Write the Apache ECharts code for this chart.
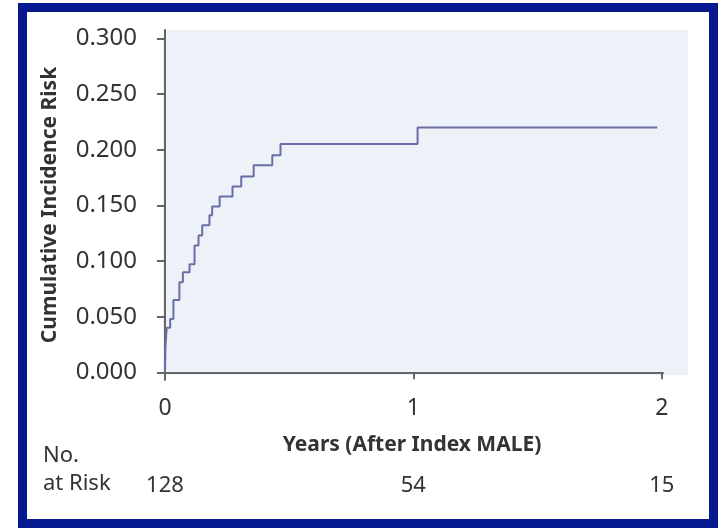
<!DOCTYPE html>
<html>
<head>
<meta charset="utf-8">
<script src="https://cdn.jsdelivr.net/npm/echarts@6/dist/echarts.min.js"></script>
<style>
  html, body { margin: 0; padding: 0; background: #ffffff; }
  #wrap { position: relative; width: 719px; height: 529px; overflow: hidden; }
  #frame { position: absolute; left: 18px; top: 3px; width: 700px; height: 525px; box-sizing: border-box; border: 9px solid #06198f; }
  #chart { position: absolute; left: 0; top: 0; width: 719px; height: 529px; }
</style>
</head>
<body>
<div id="wrap">
  <div id="frame"></div>
  <div id="chart"></div>
</div>
<script>
// Data
var years = [0, 0.002, 0.007, 0.021, 0.034, 0.058, 0.072, 0.099, 0.119, 0.135, 0.150, 0.179, 0.190, 0.220, 0.272, 0.307, 0.357, 0.432, 0.465, 1.017, 1.982];
var cumulativeRisk = [0, 0.023, 0.040, 0.048, 0.065, 0.081, 0.090, 0.097, 0.114, 0.123, 0.132, 0.141, 0.149, 0.158, 0.167, 0.176, 0.186, 0.195, 0.205, 0.220, 0.220];
var xTicks = [0, 1, 2];
var yTicks = [0, 0.05, 0.10, 0.15, 0.20, 0.25, 0.30];
var atRisk = [128, 54, 15];

var FONT = 'Noto Sans';
var TEXT = '#333333';
var AXIS = '#666666';

var seriesData = years.map(function (t, i) { return [t, cumulativeRisk[i]]; });

var chart = echarts.init(document.getElementById('chart'), null, { renderer: 'canvas' });
chart.setOption({
  animation: false,
  backgroundColor: 'transparent',
  grid: [
    { left: 161, right: 56, top: 30, bottom: 149, show: false, containLabel: false },
    { left: 163, right: 31, top: 30, bottom: 154, show: true, backgroundColor: '#edf1f8', borderWidth: 0, containLabel: false }
  ],
  xAxis: [
    {
      gridIndex: 0, type: 'value', min: -0.016, max: 2.005, position: 'bottom',
      axisLine: { show: true, lineStyle: { color: AXIS, width: 2 } },
      axisTick: { show: true, customValues: xTicks, length: 7, lineStyle: { color: AXIS, width: 2 } },
      axisLabel: { show: true, customValues: xTicks, margin: 17, color: TEXT, fontFamily: FONT, fontSize: 23 },
      splitLine: { show: false },
      name: 'Years (After Index MALE)', nameLocation: 'middle', nameGap: 55,
      nameTextStyle: { color: TEXT, fontFamily: FONT, fontSize: 21, fontWeight: 'bold' }
    },
    {
      gridIndex: 0, type: 'value', min: -0.016, max: 2.005, position: 'bottom',
      axisLine: { show: false }, axisTick: { show: false }, splitLine: { show: false },
      axisLabel: {
        show: true, customValues: xTicks, margin: 95, color: TEXT, fontFamily: FONT, fontSize: 22,
        formatter: function (v) { var i = xTicks.indexOf(Math.round(v)); return i >= 0 ? String(atRisk[i]) : ''; }
      }
    },
    { gridIndex: 1, type: 'value', min: 0, max: 1, show: false }
  ],
  yAxis: [
    {
      gridIndex: 0, type: 'value', min: -0.0069, max: 0.3075,
      axisLine: { show: true, lineStyle: { color: AXIS, width: 2 } },
      axisTick: { show: true, customValues: yTicks, length: 8, lineStyle: { color: AXIS, width: 2 } },
      axisLabel: { show: true, customValues: yTicks, margin: 24, color: TEXT, fontFamily: FONT, fontSize: 24,
        formatter: function (v) { return v.toFixed(3); } },
      splitLine: { show: false },
      name: 'Cumulative Incidence Risk', nameLocation: 'middle', nameGap: 100, nameRotate: 90,
      nameTextStyle: { color: TEXT, fontFamily: FONT, fontSize: 21, fontWeight: 'bold' }
    },
    { gridIndex: 1, type: 'value', min: 0, max: 1, show: false }
  ],
  graphic: [
    { type: 'text', left: 43, top: 445, style: { text: 'No.', fill: TEXT, font: '22px "Noto Sans"' } },
    { type: 'text', left: 43, top: 473, style: { text: 'at Risk', fill: TEXT, font: '22px "Noto Sans"' } }
  ],
  series: [
    {
      type: 'line', xAxisIndex: 0, yAxisIndex: 0, step: 'end', showSymbol: false, z: 5,
      lineStyle: { color: '#6a6ea6', width: 2 },
      data: seriesData
    }
  ]
});
</script>
</body>
</html>
